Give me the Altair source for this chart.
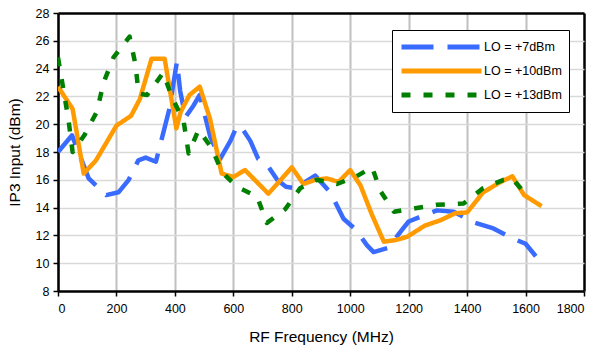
import altair as alt
import pandas as pd

series_names = ["LO = +7dBm", "LO = +10dBm", "LO = +13dBm"]

f7 = [0, 48, 105, 165, 207, 242, 275, 300, 335, 380, 407, 418, 436, 464, 485, 521, 555, 590, 612, 625,
      658, 685, 715, 750, 780, 812, 880, 932, 977, 1020, 1057, 1080, 1130, 1177, 1200, 1235, 1297, 1354,
      1377, 1428, 1490, 1554, 1600, 1635]
v7 = [18.0, 19.2, 16.1, 14.9, 15.1, 16.0, 17.4, 17.6, 17.3, 21.0, 24.5, 22.4, 20.5, 21.35, 22.1, 19.1, 17.5,
      18.8, 19.85, 19.85, 18.8, 17.5, 17.1, 16.0, 15.5, 15.4, 16.3, 15.1, 13.2, 12.4, 11.3, 10.8, 11.1, 12.4,
      13.0, 13.3, 13.8, 13.7, 13.45, 12.9, 12.5, 11.8, 11.4, 10.5]

f10 = [0, 50, 88, 130, 200, 250, 280, 320, 365, 405, 420, 450, 485, 520, 560, 600, 640, 720, 800, 840, 880,
       920, 960, 1000, 1035, 1075, 1115, 1155, 1195, 1255, 1310, 1360, 1400, 1455, 1515, 1555, 1595, 1655]
v10 = [22.7, 21.1, 16.45, 17.4, 19.9, 20.6, 21.8, 24.7, 24.7, 19.7, 20.9, 22.1, 22.7, 20.4, 16.45, 16.2, 16.7,
       15.0, 16.9, 15.7, 16.0, 16.1, 15.85, 16.7, 15.6, 13.45, 11.55, 11.66, 11.9, 12.7, 13.1, 13.6, 13.65,
       15.1, 15.85, 16.25, 14.9, 14.1]

f13 = [0, 20, 36, 50, 90, 133, 156, 190, 245, 265, 276, 305, 360, 390, 430, 447, 481, 527, 561, 612, 681, 715,
       778, 829, 886, 955, 1017, 1075, 1103, 1150, 1223, 1297, 1388, 1455, 1525, 1554, 1600]
v13 = [24.8, 22.3, 20.3, 18.0, 19.2, 20.9, 23.0, 24.8, 26.3, 24.3, 22.2, 22.1, 23.7, 21.95, 20.2, 17.9, 19.6,
       18.25, 16.55, 15.5, 14.8, 12.9, 13.9, 15.4, 16.0, 15.7, 16.2, 16.9, 15.2, 13.7, 13.95, 14.2, 14.3, 15.4,
       16.0, 16.1, 15.0]

x_ticks = list(range(0, 1801, 200))
y_ticks = list(range(8, 29, 2))

rows = []
for name, fs, vs in zip(series_names, [f7, f10, f13], [v7, v10, v13]):
    for i, (f, v) in enumerate(zip(fs, vs)):
        rows.append({"series": name, "freq": f, "ip3": v, "idx": i})
df = pd.DataFrame(rows)

FONT = "Liberation Sans"

legend_opts = dict(title=None, orient="none", legendX=334, legendY=17,
                   symbolType="stroke", symbolSize=6400, symbolStrokeWidth=5,
                   clipHeight=20, rowPadding=4,
                   labelFont=FONT, labelFontSize=12.5, labelColor="black",
                   labelOffset=0, padding=7,
                   strokeColor="black", fillColor="white", labelLimit=200)

x_grid_color = {"condition": {"test": "datum.value >= 1800", "value": "black"}, "value": "#c0c0c0"}
x_grid_width = {"condition": {"test": "datum.value >= 1800", "value": 2.5}, "value": 2}
y_grid_color = {"condition": {"test": "datum.value >= 28", "value": "black"}, "value": "#d9d9d9"}
y_grid_width = {"condition": {"test": "datum.value >= 28", "value": 2.5}, "value": 1.5}

lines = alt.Chart(df).mark_line(strokeWidth=4.5, strokeCap="butt", strokeJoin="round", clip=True).encode(
    x=alt.X("freq:Q", title="RF Frequency (MHz)",
            scale=alt.Scale(domain=[0, 1800], nice=False, zero=False),
            axis=alt.Axis(values=x_ticks, format="d", grid=True, gridColor=x_grid_color, gridWidth=x_grid_width,
                          domainColor="black", domainWidth=2.5, tickColor="black", tickWidth=1.5,
                          tickSize=5, labelPadding=6, labelFontSize=12.5, labelColor="black",
                          titleFontSize=15.5, titleFontWeight="normal", titleColor="black",
                          titlePadding=15, labelFont=FONT, titleFont=FONT)),
    y=alt.Y("ip3:Q", title="IP3 Input (dBm)",
            scale=alt.Scale(domain=[8, 28], nice=False, zero=False),
            axis=alt.Axis(values=y_ticks, grid=True, gridColor=y_grid_color, gridWidth=y_grid_width,
                          domainColor="black", domainWidth=2.5, tickColor="black", tickWidth=1.5,
                          tickSize=5, labelPadding=4, labelFontSize=12.5, labelColor="black",
                          titleFontSize=15.5, titleFontWeight="normal", titleColor="black",
                          titlePadding=13, labelFont=FONT, titleFont=FONT)),
    color=alt.Color("series:N",
                    scale=alt.Scale(domain=series_names, range=["#3a6bff", "#ff9a00", "#007f00"]),
                    legend=alt.Legend(**legend_opts)),
    strokeDash=alt.StrokeDash("series:N",
                              scale=alt.Scale(domain=series_names, range=[[32, 14], [1, 0], [9, 13]]),
                              legend=alt.Legend(**legend_opts)),
    order="idx:Q",
)

chart = lines.properties(
    width=526, height=278,
    padding={"left": 58, "top": 13, "right": 18, "bottom": 60},
    autosize=alt.AutoSizeParams(type="none"),
).configure_view(stroke="black", strokeWidth=2.5).configure(background="white")

chart.save("out.html", embed_options={"renderer": "svg", "actions": False})
